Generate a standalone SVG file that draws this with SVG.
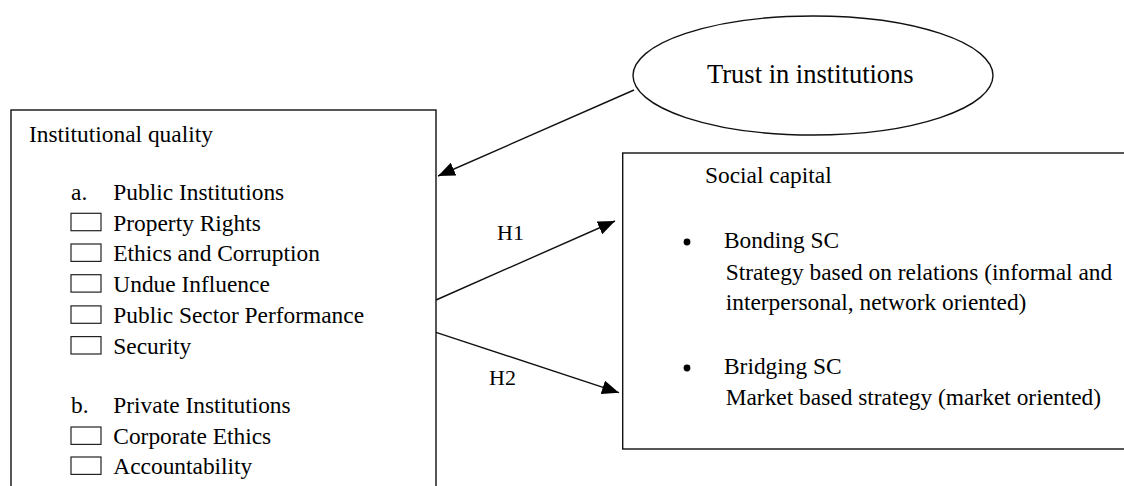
<svg xmlns="http://www.w3.org/2000/svg" width="1124" height="486" viewBox="0 0 1124 486">
<style>
text{font-family:"Liberation Serif","Times New Roman",serif;fill:#000;font-size:23.4px}
.box{fill:none;stroke:#111;stroke-width:1.4}
.cb{fill:none;stroke:#222;stroke-width:1.2}
.edge{fill:none;stroke:#111;stroke-width:1.4}
</style>
<defs>
<marker id="ah" markerUnits="userSpaceOnUse" markerWidth="18" markerHeight="14" refX="17" refY="7" orient="auto">
<path d="M0,0 L17,7 L0,14 z" fill="#000"/>
</marker>
</defs>
<rect width="1124" height="486" fill="#fff"/>
<g id="trust">
<ellipse cx="813" cy="75.5" rx="180" ry="59.5" class="box"/>
<text x="707" y="83" style="font-size:26.5px">Trust in institutions</text>
</g>
<g id="institutional-quality">
<rect x="11" y="110" width="425" height="400" class="box"/>
<text x="29" y="142">Institutional quality</text>
<text x="71" y="200">a.</text>
<text x="113.3" y="200">Public Institutions</text>
<rect x="71" y="213.3" width="30" height="17.4" class="cb"/>
<text x="113.3" y="230.7">Property Rights</text>
<rect x="71" y="244" width="30" height="17.4" class="cb"/>
<text x="113.3" y="261.4">Ethics and Corruption</text>
<rect x="71" y="274.7" width="30" height="17.4" class="cb"/>
<text x="113.3" y="292.1">Undue Influence</text>
<rect x="71" y="305.9" width="30" height="17.4" class="cb"/>
<text x="113.3" y="323.3">Public Sector Performance</text>
<rect x="71" y="336.6" width="30" height="17.4" class="cb"/>
<text x="113.3" y="354">Security</text>
<text x="71" y="413.3">b.</text>
<text x="113.3" y="413.3">Private Institutions</text>
<rect x="71" y="427" width="30" height="17.4" class="cb"/>
<text x="113.3" y="444.4">Corporate Ethics</text>
<rect x="71" y="457" width="30" height="17.4" class="cb"/>
<text x="113.3" y="474.4">Accountability</text>
</g>
<g id="social-capital">
<rect x="622.7" y="153" width="520" height="296" class="box"/>
<text x="705" y="183">Social capital</text>
<circle cx="687" cy="242" r="3.4" fill="#000"/>
<text x="724" y="248">Bonding SC</text>
<text x="725.7" y="280">Strategy based on relations (informal and</text>
<text x="725.7" y="310">interpersonal, network oriented)</text>
<circle cx="687" cy="368" r="3.4" fill="#000"/>
<text x="724" y="374">Bridging SC</text>
<text x="725.7" y="405">Market based strategy (market oriented)</text>
</g>
<g id="connectors">
<line x1="634" y1="90" x2="438" y2="176" class="edge" marker-end="url(#ah)"/>
<line x1="436" y1="300" x2="615" y2="221" class="edge" marker-end="url(#ah)"/>
<line x1="436" y1="332.3" x2="619" y2="392.7" class="edge" marker-end="url(#ah)"/>
<text x="497" y="240" style="font-size:22px">H1</text>
<text x="489" y="385" style="font-size:22px">H2</text>
</g>
</svg>
